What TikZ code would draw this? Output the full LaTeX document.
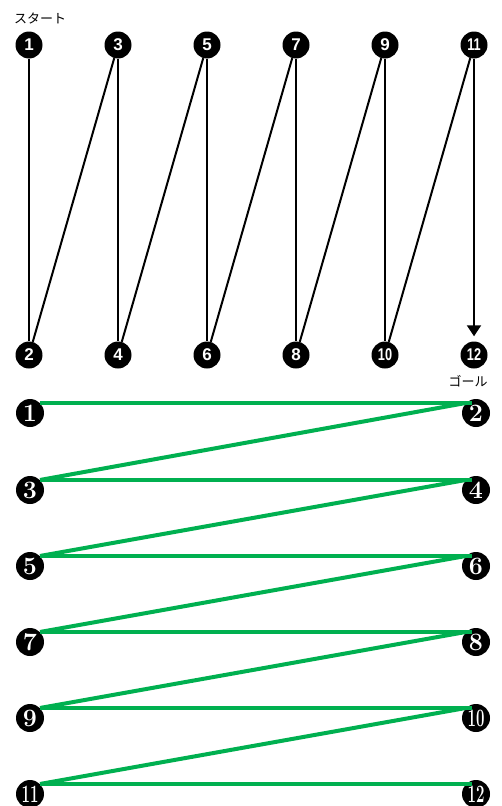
\documentclass[tikz,border=0pt]{standalone}
\usepackage{fontspec}
\newfontfamily\jp{Noto Sans CJK JP}
\newfontfamily\numsans{Liberation Sans}
\usetikzlibrary{arrows.meta}
\definecolor{zgreen}{RGB}{0,176,80}
\begin{document}
\begin{tikzpicture}[x=1pt,y=-1pt,
  topc/.style={circle, fill=black, minimum size=27pt, inner sep=0pt, text=white, font=\numsans\bfseries\fontsize{17}{17}\selectfont},
  botc/.style={circle, fill=black, minimum size=28pt, inner sep=0pt, text=white, font=\bfseries\fontsize{25}{25}\selectfont},
  blk/.style={line width=2pt},
  grn/.style={draw=zgreen, line width=4pt},
  jlabel/.style={font=\jp\fontsize{13}{13}\selectfont, inner sep=0pt}]
\useasboundingbox (0,0) rectangle (502,806);
% top part
\node[topc] (t1) at (29,45) {1};
\node[topc] (t3) at (118,45) {3};
\node[topc] (t5) at (207,45) {5};
\node[topc] (t7) at (296,45) {7};
\node[topc] (t9) at (385,45) {9};
\node[topc] (t11) at (474,45) {\scalebox{0.75}[1]{11}};
\node[topc] (t2) at (29,355) {2};
\node[topc] (t4) at (118,355) {4};
\node[topc] (t6) at (207,355) {6};
\node[topc] (t8) at (296,355) {8};
\node[topc] (t10) at (385,355) {\scalebox{0.75}[1]{10}};
\node[topc] (t12) at (474,355) {\scalebox{0.75}[1]{12}};
\node[jlabel] (start) at (40,18) {スタート};
\node[jlabel] (goal) at (468,381) {ゴール};
\draw[blk] (t1) -- (t2);
\draw[blk] (t2) -- (t3);
\draw[blk] (t3) -- (t4);
\draw[blk] (t4) -- (t5);
\draw[blk] (t5) -- (t6);
\draw[blk] (t6) -- (t7);
\draw[blk] (t7) -- (t8);
\draw[blk] (t8) -- (t9);
\draw[blk] (t9) -- (t10);
\draw[blk] (t10) -- (t11);
\draw[blk, -{Triangle[length=11pt,width=14pt]}, shorten >=5pt] (t11) -- (t12);
% bottom part
\node[botc] (b1) at (30,413) {1};
\node[botc] (b2) at (476,413) {2};
\node[botc] (b3) at (30,490) {3};
\node[botc] (b4) at (476,490) {4};
\node[botc] (b5) at (30,566) {5};
\node[botc] (b6) at (476,566) {6};
\node[botc] (b7) at (30,642) {7};
\node[botc] (b8) at (476,642) {8};
\node[botc] (b9) at (30,718) {9};
\node[botc] (b10) at (476,718) {\scalebox{0.6}[1]{10}};
\node[botc] (b11) at (30,794) {\scalebox{0.6}[1]{11}};
\node[botc] (b12) at (476,794) {\scalebox{0.6}[1]{12}};
\draw[grn] (b1.45) -- (b1.45 -| b2.105);
\draw[grn] (b2.135) -- (b3.45);
\draw[grn] (b3.45) -- (b3.45 -| b4.105);
\draw[grn] (b4.135) -- (b5.45);
\draw[grn] (b5.45) -- (b5.45 -| b6.105);
\draw[grn] (b6.135) -- (b7.45);
\draw[grn] (b7.45) -- (b7.45 -| b8.105);
\draw[grn] (b8.135) -- (b9.45);
\draw[grn] (b9.45) -- (b9.45 -| b10.105);
\draw[grn] (b10.135) -- (b11.45);
\draw[grn] (b11.45) -- (b11.45 -| b12.105);
\end{tikzpicture}
\end{document}
